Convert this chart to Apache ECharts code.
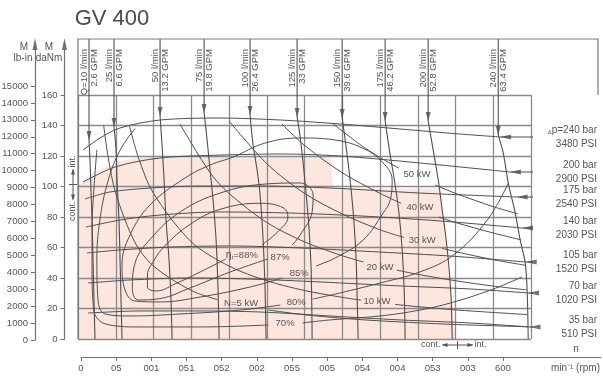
<!DOCTYPE html>
<html>
<head>
<meta charset="utf-8">
<title>GV 400</title>
<script src="https://cdn.jsdelivr.net/npm/echarts@6/dist/echarts.min.js"></script>
<style>
html,body{margin:0;padding:0;background:#fff;}
#chart{width:603px;height:380px;}
</style>
</head>
<body>
<div id="chart"></div>
<script>
// ---------- axis ticks ----------
const rpmTicks = [0, 50, 100, 150, 200, 250, 300, 350, 400, 450, 500, 550, 600];
const rpmTickText = ["0", "05", "001", "051", "052", "002", "055", "005", "054", "004", "053", "003", "600"];
const torqueTicks = [0, 20, 40, 60, 80, 100, 120, 140, 160];
const lbinTicks = [0, 1000, 2000, 3000, 4000, 5000, 6000, 7000, 8000, 9000, 10000, 11000, 12000, 13000, 14000, 15000];

// ---------- flow lines: [rpm, daNm], first point = arrow tip ----------
const flowLpm = ["Q=10 l/min", "25 l/min", "50 l/min", "75 l/min", "100 l/min", "125 l/min", "150 l/min", "175 l/min", "200 l/min", "240 l/min"];
const flowGpm = ["2.6 GPM", "6.6 GPM", "13.2 GPM", "19.8 GPM", "26.4 GPM", "33 GPM", "39.6 GPM", "46.2 GPM", "52.8 GPM", "63.4 GPM"];
const flow10 = [[14.6, 130.5], [15.9, 117.4], [17.2, 97.7], [18.6, 78.0], [19.9, 51.8], [21.2, 25.6], [22.5, 0]];
const flow25 = [[47.7, 139.0], [50.4, 124.0], [51.7, 104.3], [54.3, 78.0], [55.7, 51.8], [57.0, 25.6], [58.3, 0]];
const flow50 = [[108.7, 146.2], [111.3, 127.2], [114.0, 104.3], [116.6, 78.0], [120.6, 51.8], [123.2, 25.6], [124.6, 0]];
const flow75 = [[167.0, 148.2], [171.0, 130.5], [174.9, 110.8], [178.9, 91.1], [182.9, 64.9], [185.5, 32.1], [186.9, 0]];
const flow100 = [[227.9, 146.9], [231.9, 127.2], [237.2, 110.8], [241.2, 94.4], [245.2, 64.9], [247.8, 32.1], [249.1, 0]];
const flow125 = [[290.2, 145.6], [294.2, 132.5], [298.2, 115.4], [302.1, 95.7], [306.1, 71.5], [308.8, 45.2], [310.1, 0]];
const flow150 = [[349.9, 144.9], [356.5, 120.6], [361.8, 97.7], [365.8, 74.8], [368.4, 51.8], [369.8, 25.6], [371.1, 0]];
const flow175 = [[406.8, 142.9], [413.5, 120.6], [420.1, 101.0], [425.4, 81.3], [429.4, 58.4], [432.0, 32.1], [433.3, 0]];
const flow200 = [[463.8, 142.9], [470.4, 124.0], [477.1, 104.3], [482.4, 84.6], [487.7, 64.9], [491.6, 45.2], [494.3, 25.6], [495.6, 0]];
const flow240 = [[556.6, 133.8], [563.2, 122.0], [569.9, 102.3], [579.1, 82.6], [585.7, 64.9], [592.4, 49.8], [595.0, 30.2], [596.3, 0]];
const flowCurves = [flow10, flow25, flow50, flow75, flow100, flow125, flow150, flow175, flow200, flow240];

// ---------- pressure lines: [rpm, daNm], last point = arrow tip ----------
const pressureBar = ["p=240 bar", "200 bar", "175 bar", "140 bar", "105 bar", "70 bar", "35 bar"];
const pressurePsi = ["3480 PSI", "2900 PSI", "2540 PSI", "2030 PSI", "1520 PSI", "1020 PSI", "510 PSI"];
const dp240 = [[6.6, 123.9], [29.2, 131.8], [55.7, 138.4], [108.7, 143.6], [188.2, 144.9], [267.7, 143.6], [347.2, 141.0], [426.7, 137.7], [506.2, 134.4], [559.0, 132.5]];
const dp200 = [[6.6, 102.9], [49.0, 112.8], [108.7, 118.7], [188.2, 120.6], [267.7, 121.3], [347.2, 120.0], [453.2, 115.4], [572.0, 109.5]];
const dp175 = [[9.3, 91.8], [42.4, 96.4], [95.4, 99.0], [161.7, 100.3], [241.2, 100.3], [334.0, 99.0], [453.2, 95.7], [581.0, 93.1]];
const dp140 = [[10.6, 73.4], [55.7, 78.0], [108.7, 81.3], [188.2, 83.3], [281.0, 82.6], [373.7, 80.7], [479.7, 77.4], [588.0, 72.8]];
const dp105 = [[11.9, 56.4], [55.7, 58.4], [121.9, 60.3], [201.4, 61.0], [294.2, 59.7], [400.2, 57.0], [493.0, 54.4], [593.0, 50.5]];
const dp70 = [[13.3, 36.7], [68.9, 38.7], [148.4, 40.0], [228.0, 39.3], [320.7, 37.4], [426.7, 34.8], [519.5, 32.8], [596.0, 30.2]];
const dp35 = [[13.3, 17.0], [82.2, 18.4], [161.7, 18.4], [241.2, 17.7], [334.0, 15.1], [426.7, 12.5], [519.5, 10.5], [598.0, 7.9]];
const pressureCurves = [dp240, dp200, dp175, dp140, dp105, dp70, dp35];

// ---------- power lines N [kW]; null = gap for the label ----------
const powerText = ["50 kW", "40 kW", "30 kW", "20 kW", "10 kW", "N=5 kW"];
const powerAt = [[449, 108], [453, 86.6], [456, 65], [400, 47.2], [396, 24.8], [216, 23.6]];
const kw50 = [[338, 141], [375, 127], [400, 119], [425, 112], null, [473, 101], [500, 95.5], [550, 86.8], [583, 82]];
const kw40 = [[270, 141], [300, 127], [350, 109], [400, 95.5], [428, 89], null, [478, 80], [500, 76.4], [550, 69.5], [587, 65]];
const kw30 = [[200, 143], [250, 115], [300, 95.5], [350, 82], [400, 71.6], [432, 66.5], null, [482, 59.5], [500, 57.3], [550, 52], [592, 48.4]];
const kw20 = [[135, 141], [175, 109], [200, 95.5], [250, 76.4], [300, 63.7], [350, 54.6], [378, 50.5], null, [422, 45.2], [450, 42.4], [500, 38.2], [550, 34.7], [594, 32.2]];
const kw10 = [[68, 140], [80, 119], [100, 95.5], [150, 63.7], [200, 47.8], [250, 38.2], [300, 31.8], [350, 27.3], [375, 25.5], null, [420, 22.7], [450, 21.2], [500, 19.1], [550, 17.4], [595, 16]];
const kw5 = [[34, 140], [40, 119], [50, 95.5], [75, 63.7], [100, 47.8], [150, 31.8], [185, 25.8], null, [252, 19.0], [300, 15.9], [350, 13.6], [400, 11.9], [450, 10.6], [500, 9.5], [550, 8.7], [596, 8]];
const powerCurves = [kw50, kw40, kw30, kw20, kw10, kw5];

// ---------- overall efficiency ηt [%]; null = gap for the label ----------
const effText = ["=88%", "87%", "85%", "80%", "70%"];
const effAt = [[217, 55], [267.7, 53.8], [292.9, 43.3], [289, 24.3], [274.3, 10.5]];
const eta88 = [[196, 52.5], [162, 44], [128, 36], [104, 31.5], [92, 34], [92, 42], [100, 51], [115, 61], [148, 75], [188, 85], [241, 89], [272, 86], [278, 80], [264, 70], [244, 62]];
const eta87 = [[251.8, 52.5], [201.4, 43.9], [148.4, 33.5], [108.7, 26.5], [80, 25.6], [72, 33], [76, 50.5], [97, 66.2], [135.2, 83.3], [188.2, 95.7], [247.8, 101.6], [294.2, 102.3], [311.4, 94.4], [310.1, 83.3], [294.2, 68.2], [283.6, 61.6]];
const eta85 = [[270.3, 40.0], [227.9, 34.1], [161.7, 27.5], [108.7, 24.3], [75.5, 24.9], [62.3, 32.1], [58.3, 48.5], [68.9, 68.2], [95.4, 87.9], [141.8, 105.6], [174.9, 114.1], [205.4, 119.3], [247.8, 128.5], [294.2, 131.8], [340.6, 130.5], [373.7, 125.9], [400.2, 117.4], [416.1, 104.3], [413.5, 91.1], [404.2, 82.6], [377.7, 64.9], [343.2, 53.8], [315.4, 47.9]];
const eta80 = [[570, 102.3], [542, 78], [497, 55], [453, 44], [400, 36.7], [347, 30.2], [311, 26.2], null, [268, 22.3], [215, 19], [135, 16.4], [69, 15.1], [36, 16.4], [26.5, 25.6], [25, 51.8], [29, 78], [40, 104], [56, 124], [75.5, 138]];
const eta70 = [[588, 40.7], [546, 32], [493, 23.6], [453, 19], [400, 15.1], [334, 12.5], [297, 10.5], null, [252, 9.2], [162, 7.9], [82, 7.9], [42, 9.2], [25, 13.8], [20, 23.6], [18.6, 45], [18.6, 71.5], [21, 97.7], [25, 124]];
const effCurves = [eta88, eta87, eta85, eta80, eta70];

// ---------- continuous operation area (outline) ----------
const contArea = [[0, 100.3], [8, 104.5], [16, 107.5], [26, 110.5], [36, 112.8], [50, 115.6], [62, 117.4], [80, 118.7], [95, 119.3], [334, 119.3], [338, 99.0], [480, 98.4], [500, 0]];
const contTorque = 100;   // cont. / int. boundary on the torque scale
const contSpeed = 500;    // cont. / int. boundary on the speed scale

// ---------- styling ----------
const INK = '#4f4f4f';
const GRID = '#8a8a8a';
const TXT = '#555555';
const PINK = '#fce6dd';
const FONT = '"Liberation Sans", Arial, sans-serif';

const chart = echarts.init(document.getElementById('chart'), null, { renderer: 'canvas' });

// pixel scale of the speed ruler below the plot
const PX_PER_RPM = 0.7033;
const rpmAxisMax = 520 / PX_PER_RPM;
const lbinAxisMax = 296 / (254 / 15000);
const danmAxisMax = 295 / (244 / 160);

function hiddenAxis(i) {
  return { gridIndex: i, type: 'value', show: false, min: 0, max: 1 };
}

const axisText = { color: TXT, fontSize: 9.5, fontFamily: FONT };

chart.setOption({
  animation: false,
  backgroundColor: '#ffffff',
  textStyle: { fontFamily: FONT },
  grid: [
    { left: 78, top: 95, width: 453, height: 244 },
    { left: 34, top: 44, width: 1, height: 296 },
    { left: 64.5, top: 44, width: 1, height: 295 },
    { left: 81, top: 356, width: 520, height: 1 }
  ],
  xAxis: [
    {
      gridIndex: 0, type: 'value', min: 0, max: 600, interval: 50,
      axisLine: { show: false }, axisTick: { show: false }, axisLabel: { show: false },
      splitLine: { show: true, lineStyle: { color: GRID, width: 1.3 } }
    },
    hiddenAxis(1), hiddenAxis(2),
    {
      gridIndex: 3, type: 'value', min: 0, max: rpmAxisMax, position: 'bottom',
      axisLine: { show: true, lineStyle: { color: '#707070', width: 1 } },
      axisTick: { show: true, customValues: rpmTicks, length: 4, lineStyle: { color: '#707070' } },
      axisLabel: {
        show: true, customValues: rpmTicks, margin: 6, ...axisText,
        formatter: v => rpmTickText[rpmTicks.indexOf(Math.round(v))] || ''
      },
      splitLine: { show: false }
    }
  ],
  yAxis: [
    {
      gridIndex: 0, type: 'value', min: 0, max: 160, interval: 20,
      axisLine: { show: false }, axisTick: { show: false }, axisLabel: { show: false },
      splitLine: { show: true, lineStyle: { color: GRID, width: 1.3 } }
    },
    {
      gridIndex: 1, type: 'value', min: 0, max: lbinAxisMax,
      axisLine: { show: true, symbol: ['none', 'triangle'], symbolSize: [5, 12], lineStyle: { color: '#707070', width: 1.2 } },
      axisTick: { show: true, customValues: lbinTicks, length: 4, lineStyle: { color: '#707070' } },
      axisLabel: { show: true, customValues: lbinTicks, margin: 7, ...axisText, formatter: v => String(Math.round(v)) },
      splitLine: { show: false }
    },
    {
      gridIndex: 2, type: 'value', min: 0, max: danmAxisMax,
      axisLine: { show: true, symbol: ['none', 'triangle'], symbolSize: [5, 12], lineStyle: { color: '#707070', width: 1.2 } },
      axisTick: { show: true, customValues: torqueTicks, length: 4, lineStyle: { color: '#707070' } },
      axisLabel: { show: true, customValues: torqueTicks, margin: 7, ...axisText, formatter: v => String(Math.round(v)) },
      splitLine: { show: false }
    },
    hiddenAxis(3)
  ]
});

// values of the outer frame edges on the plot scales
const FRAME_TOP_PX = 39;
const LABEL_RIGHT_PX = 597;
const frameTopVal = chart.convertFromPixel({ gridIndex: 0 }, [0, FRAME_TOP_PX])[1];
const labelRightVal = chart.convertFromPixel({ gridIndex: 0 }, [LABEL_RIGHT_PX, 0])[0];

function splitSegments(points) {
  const segs = [];
  let cur = [];
  points.forEach(p => {
    if (p === null) { if (cur.length) segs.push(cur); cur = []; }
    else cur.push(p);
  });
  if (cur.length) segs.push(cur);
  return segs;
}

function curveSeries(points, width, smooth) {
  return splitSegments(points).map(seg => ({
    type: 'line', xAxisIndex: 0, yAxisIndex: 0, data: seg,
    symbol: 'none', smooth: smooth, clip: false, silent: true, z: 3,
    lineStyle: { color: INK, width: width }
  }));
}

const series = [];

// continuous area
series.push({
  type: 'line', xAxisIndex: 0, yAxisIndex: 0, data: contArea,
  symbol: 'none', smooth: false, silent: true, z: -1,
  lineStyle: { width: 0, opacity: 0 },
  areaStyle: { color: PINK, opacity: 1 }
});

// flow lines with their arrows from the top frame
flowCurves.forEach(c => {
  series.push(...curveSeries(c, 1.1, 0.3));
  const tip = c[0];
  series.push({
    type: 'line', xAxisIndex: 0, yAxisIndex: 0,
    data: [[tip[0], frameTopVal], tip],
    symbol: 'none', clip: false, silent: true, z: 3,
    lineStyle: { color: INK, width: 1.1 }
  });
});
series.push({
  type: 'scatter', xAxisIndex: 0, yAxisIndex: 0, clip: false, silent: true, z: 4,
  data: flowCurves.map(c => c[0]),
  symbol: 'triangle', symbolSize: [5, 9], symbolRotate: 180, symbolOffset: [0, -4.5],
  itemStyle: { color: INK }
});

// pressure lines with arrows from the right labels
pressureCurves.forEach(c => {
  series.push(...curveSeries(c, 1.0, 0.3));
  const tip = c[c.length - 1];
  series.push({
    type: 'line', xAxisIndex: 0, yAxisIndex: 0,
    data: [tip, [labelRightVal, tip[1]]],
    symbol: 'none', clip: false, silent: true, z: 3,
    lineStyle: { color: INK, width: 1.1 }
  });
});
series.push({
  type: 'scatter', xAxisIndex: 0, yAxisIndex: 0, clip: false, silent: true, z: 4,
  data: pressureCurves.map(c => c[c.length - 1]),
  symbol: 'triangle', symbolSize: [5, 11], symbolRotate: 90, symbolOffset: [5.5, 0],
  itemStyle: { color: INK }
});

// power and efficiency lines
powerCurves.forEach(c => series.push(...curveSeries(c, 1.0, 0.3)));
effCurves.forEach(c => series.push(...curveSeries(c, 1.0, 0.4)));

chart.setOption({ series: series });

// ---------- texts and frame ----------
const px = (v) => chart.convertToPixel({ gridIndex: 0 }, v);
const g = [];
const txt = (x, y, text, o) => Object.assign({
  type: 'text', x: x, y: y, silent: true, z: 10,
  style: Object.assign({ text: text, fill: TXT, fontSize: 9.5, fontFamily: FONT, align: 'center', verticalAlign: 'middle' }, (o && o.style) || {})
}, o && o.rotation ? { rotation: o.rotation } : {});

// outer frame
const p00 = px([0, 0]);
const p0t = px([0, frameTopVal]);
const pRight = px([labelRightVal, frameTopVal]);
const pTop = px([600, 160]);
g.push({ type: 'polyline', silent: true, z: 5, shape: { points: [[p00[0], p00[1]], [p0t[0], p0t[1]], [pRight[0] + 1, p0t[1]], [pRight[0] + 1, pTop[1]]] }, style: { stroke: '#7a7a7a', lineWidth: 1.2, fill: null } });

// title and torque scale headers
g.push(txt(112, 19, 'GV 400', { style: { fontSize: 22, fill: '#4a4a4a' } }));
g.push(txt(24, 47, 'M', { style: { fontSize: 10 } }));
g.push(txt(23, 58, 'lb-in', { style: { fontSize: 10 } }));
g.push(txt(49, 47, 'M', { style: { fontSize: 10 } }));
g.push(txt(49, 58, 'daNm', { style: { fontSize: 10 } }));

// speed scale captions
g.push(txt(576, 349, 'n', { style: { fontSize: 10 } }));
g.push(txt(600, 368, 'min\u207B\u00B9 (rpm)', { style: { fontSize: 10, align: 'right' } }));

// flow captions, rotated
flowCurves.forEach((c, i) => {
  const p = px([c[0][0], 160]);
  g.push(txt(p[0] - 4.5, 49, flowLpm[i], { rotation: Math.PI / 2, style: { align: 'right', fontSize: 9.5 } }));
  g.push(txt(p[0] + 5, 49, flowGpm[i], { rotation: Math.PI / 2, style: { align: 'right', fontSize: 9.5 } }));
});

// pressure captions
pressureCurves.forEach((c, i) => {
  const tip = c[c.length - 1];
  const p = px([labelRightVal, tip[1]]);
  const first = i === 0
    ? { text: '{d|\u0394}p=240 bar', rich: { d: { fontSize: 6, verticalAlign: 'bottom', fill: TXT, padding: [4, 0, 0, 0] } } }
    : { text: pressureBar[i] };
  g.push({ type: 'text', x: p[0], y: p[1] - 6.5, silent: true, z: 10,
    style: Object.assign({ fill: TXT, fontSize: 10, fontFamily: FONT, align: 'right', verticalAlign: 'middle' }, first) });
  g.push(txt(p[0], p[1] + 7, pressurePsi[i], { style: { align: 'right', fontSize: 10 } }));
});

// power and efficiency captions
powerText.forEach((t, i) => {
  const p = px(powerAt[i]);
  g.push(txt(p[0], p[1], t));
});
effText.forEach((t, i) => {
  const p = px(effAt[i]);
  if (i === 0) {
    g.push({ type: 'text', x: p[0], y: p[1], silent: true, z: 10,
      style: { text: '{e|\u03B7}{s|t}{n|' + t + '}', fill: TXT, fontFamily: FONT, align: 'center', verticalAlign: 'middle',
        rich: { e: { fontSize: 10.5, fill: TXT }, s: { fontSize: 6, fill: TXT, verticalAlign: 'bottom' }, n: { fontSize: 9.5, fill: TXT } } } });
  } else {
    g.push(txt(p[0], p[1], t));
  }
});

// cont. | int. markers
function contMarker(cx, cy, rotation) {
  const c = '#555';
  return {
    type: 'group', x: cx, y: cy, rotation: rotation, silent: true, z: 10,
    children: [
      { type: 'line', shape: { x1: -15, y1: 0, x2: 15, y2: 0 }, style: { stroke: c, lineWidth: 1 } },
      { type: 'line', shape: { x1: 0, y1: -4, x2: 0, y2: 4 }, style: { stroke: c, lineWidth: 1 } },
      { type: 'polygon', shape: { points: [[-16, 0], [-10, -2], [-10, 2]] }, style: { fill: c } },
      { type: 'polygon', shape: { points: [[16, 0], [10, -2], [10, 2]] }, style: { fill: c } },
      { type: 'text', x: -17, y: 0, style: { text: 'cont.', fill: TXT, fontSize: 9, fontFamily: FONT, align: 'right', verticalAlign: 'middle' } },
      { type: 'text', x: 17, y: 0, style: { text: 'int.', fill: TXT, fontSize: 9, fontFamily: FONT, align: 'left', verticalAlign: 'middle' } }
    ]
  };
}
const pc = px([0, contTorque]);
g.push(contMarker(73, pc[1] - 2, Math.PI / 2));
const ps = px([contSpeed, 0]);
g.push(contMarker(ps[0] + 2, 345, 0));

chart.setOption({ graphic: g });
</script>
</body>
</html>
